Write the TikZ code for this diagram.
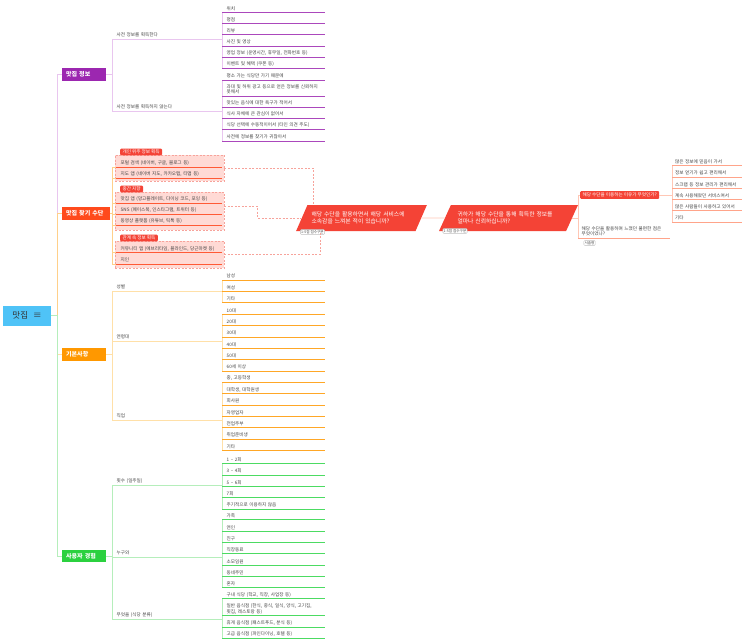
\documentclass[tikz,border=0pt]{standalone}
\usepackage{fontspec}
\setmainfont{Noto Sans CJK KR}
\usepackage{tikz}
\usetikzlibrary{shapes.geometric}
\usepackage{xcolor}
\definecolor{purpM}{HTML}{9C27B0}
\definecolor{purpL}{HTML}{E9C6EF}
\definecolor{redM}{HTML}{FF4A1C}
\definecolor{redT}{HTML}{F44336}
\definecolor{redU}{HTML}{FF5A36}
\definecolor{redL}{HTML}{FFD08A}
\definecolor{pinkF}{HTML}{FFDAD5}
\definecolor{pinkD}{HTML}{F7A39B}
\definecolor{salmL}{HTML}{FFC7B5}
\definecolor{salmU}{HTML}{FFA48A}
\definecolor{orgM}{HTML}{FF9800}
\definecolor{orgU}{HTML}{FFA726}
\definecolor{orgL}{HTML}{FFE0A8}
\definecolor{grnM}{HTML}{2BD13F}
\definecolor{grnU}{HTML}{4CDB62}
\definecolor{grnL}{HTML}{B5EEBB}
\definecolor{rootB}{HTML}{4FC3F7}
\newcommand{\leaffont}{\fontsize{4.6}{5.8}\selectfont}

\begin{document}
\begin{tikzpicture}[x=1pt, y=-1pt,
    leaf/.style={anchor=south west, inner xsep=4.5pt, inner ysep=1.5pt, text width=94pt, align=left, font=\leaffont, text=black!75},
    sub/.style={leaf, text width=101pt},
    mainbox/.style={anchor=west, minimum height=12pt, inner xsep=4pt, text width=36pt, align=left, text=white, font=\bfseries\fontsize{6}{7}\selectfont},
    tagbox/.style={anchor=south west, fill=redT, rounded corners=1pt, inner xsep=2.5pt, inner ysep=1.2pt, text=white, font=\leaffont},
    grpbox/.style={anchor=north west, fill=pinkF, draw=pinkD, dash pattern=on 2pt off 1.5pt, minimum width=109pt},
    quest/.style={trapezium, trapezium left angle=60, trapezium right angle=120, trapezium stretches=true, fill=redT, text=white, align=left, font=\fontsize{5.8}{7.4}\selectfont, minimum height=26pt},
    score/.style={fill=white, draw=black!25, rounded corners=1pt, inner sep=0.8pt, text=black!70, font=\fontsize{3.6}{4}\selectfont},
    conn/.style={line width=0.6pt},
    uline/.style={line width=0.9pt}]
    \useasboundingbox (0,0) rectangle (743,642);

    \node[fill=rootB, minimum width=48pt, minimum height=20pt, inner sep=0pt, font=\fontsize{8.5}{10}\selectfont, text=black!80] (root) at (27,315.7) {맛집\hspace{5pt}≡};
    \coordinate (tr) at (57,315.7);

    % 맛집 정보
    \begin{scope}
    \node[mainbox, fill=purpM] (info) at (62,74.5) {맛집 정보};
    \node[sub] (s1) at (112,39) {사전 정보를 획득한다};
    \node[sub] (s2) at (112,111) {사전 정보를 획득하지 않는다};

    \node[leaf] (i1) at (222,12.3) {위치};
    \node[leaf] (i2) at (222,23.5) {평점};
    \node[leaf] (i3) at (222,34.7) {리뷰};
    \node[leaf] (i4) at (222,46) {사진 및 영상};
    \node[leaf] (i5) at (222,57.3) {영업 정보 (운영시간, 휴무일, 전화번호 등)};
    \node[leaf] (i6) at (222,68.5) {이벤트 및 혜택 (쿠폰 등)};
    \node[leaf] (i7) at (222,80) {평소 가는 식당만 가기 때문에};
    \node[leaf] (i8) at (222,96) {과대 및 허위 광고 등으로 얻은 정보를 신뢰하지\\못해서};
    \node[leaf] (i9) at (222,107) {맛있는 음식에 대한 욕구가 적어서};
    \node[leaf] (i10) at (222,118) {식사 자체에 큰 관심이 없어서};
    \node[leaf] (i11) at (222,129.5) {식당 선택에 수동적이어서 (타인 의견 주도)};
    \node[leaf] (i12) at (222,141) {사전에 정보를 찾기가 귀찮아서};

    \draw[conn, purpL] (root.east) -- (tr) |- (info.west);
    \draw[conn, purpL] (info.east) -- (info.east -| s1.south west);
    \draw[conn, purpL] (s1.south west) -- (s2.south west);
    \draw[conn, purpL] (s1.south west) -- (s1.south east) (s2.south west) -- (s2.south east);
    \draw[conn, purpL] (i1.south west) -- (i6.south west) (i7.south west) -- (i12.south west);
    \foreach \i in {1,...,12}
        \draw[uline, purpM!85] (i\i.south west) -- (i\i.south east);
    \end{scope}

    % 맛집 찾기 수단
    \begin{scope}
    \node[mainbox, fill=redM, text width=40pt] (find) at (62,213.5) {맛집 찾기 수단};
    \node[grpbox, minimum height=26pt] (g1) at (115,155) {};
    \node[grpbox, minimum height=38pt] (g2) at (115,192) {};
    \node[grpbox, minimum height=27pt] (g3) at (115,241) {};
    \node[tagbox] (t1) at (120,155.5) {개인 위주 정보 획득};
    \node[tagbox] (t2) at (120,192.5) {중간 지향};
    \node[tagbox] (t3) at (120,241.5) {관계 속 정보 획득};

    \node[leaf, text width=97pt] (f1) at (116,167) {포털 검색 (네이버, 구글, 블로그 등)};
    \node[leaf, text width=97pt] (f2) at (116,178.3) {지도 앱 (네이버 지도, 카카오맵, 티맵 등)};
    \node[leaf, text width=97pt] (f3) at (116,203.5) {맛집 앱 (망고플레이트, 다이닝 코드, 포잉 등)};
    \node[leaf, text width=97pt] (f4) at (116,214.5) {SNS (페이스북, 인스타그램, 트위터 등)};
    \node[leaf, text width=97pt] (f5) at (116,225.5) {동영상 플랫폼 (유튜브, 틱톡 등)};
    \node[leaf, text width=97pt] (f6) at (116,252.7) {커뮤니티 앱 (에브리타임, 블라인드, 당근마켓 등)};
    \node[leaf, text width=97pt] (f7) at (116,264) {지인};
    \coordinate (fv) at (112,167);

    \draw[conn, redL] (root.east) -- (tr) |- (find.west);
    \draw[conn, redL] (find.east) -- (find.east -| fv);
    \draw[conn, redL] (fv) -- (fv |- f7.south west);
    \foreach \i in {1,...,7} {
        \draw[conn, redL] (fv |- f\i.south west) -- (f\i.south west);
        \draw[uline, redU] (f\i.south west) -- (f\i.south east);
    }

    \node[quest, minimum width=131pt, text width=100pt] (q1) at (361.5,218) {해당 수단을 활용하면서 해당 서비스에\\소속감을 느껴본 적이 있습니까?};
    \node[quest, minimum width=139pt, text width=102pt] (q2) at (508.5,218) {귀하가 해당 수단을 통해 획득한 정보를\\얼마나 신뢰하십니까?};
    \node[score] (sc1) at (312.5,232) {1-5점 점수구분};
    \node[score] (sc2) at (455,231) {1-5점 점수구분};

    \draw[conn, pinkD, dash pattern=on 2pt off 1.5pt] (g1.east) -| ([xshift=6pt]q1.top left corner);
    \draw[conn, pinkD, dash pattern=on 2pt off 1.5pt] ([yshift=5pt]g2.east) -- ++(33,0) |- (q1.west);
    \draw[conn, pinkD, dash pattern=on 2pt off 1.5pt] (g3.east) -| ([xshift=24pt]q1.bottom left corner);
    \draw[conn, salmL] (q1.east) -- (q2.west);

    \node[tagbox, anchor=west, inner ysep=1.8pt] (r1) at (580,195) {해당 수단을 이용하는 이유가 무엇인가?};
    \node[leaf, inner xsep=3.5pt, text width=85pt] (r2) at (578,238) {해당 수단을 활용하며 느꼈던 불편한 점은\\무엇이었나?};
    \node[score] (sc3) at (589.5,243) {서술형};

    \node[leaf, inner xsep=3pt, text width=64pt] (k1) at (672,165.7) {많은 정보에 믿음이 가서};
    \node[leaf, inner xsep=3pt, text width=64pt] (k2) at (672,177) {정보 얻기가 쉽고 편리해서};
    \node[leaf, inner xsep=3pt, text width=64pt] (k3) at (672,188.3) {스크랩 등 정보 관리가 편리해서};
    \node[leaf, inner xsep=3pt, text width=64pt] (k4) at (672,199.5) {계속 사용해왔던 서비스여서};
    \node[leaf, inner xsep=3pt, text width=64pt] (k5) at (672,210.8) {많은 사람들이 사용하고 있어서};
    \node[leaf, inner xsep=3pt, text width=64pt] (k6) at (672,222) {기타};

    \draw[conn, salmL] (q2.east) -- (q2.east -| r2.south west);
    \draw[conn, salmL] (r1.west) -- (r1.west -| r2.south west) -- (r2.south west);
    \draw[conn, salmL] (r1.east) -- (r1.east -| k1.south west);
    \draw[conn, salmL] (k1.south west) -- (k6.south west);
    \draw[uline, salmU] (r2.south west) -- (r2.south east);
    \foreach \i in {1,...,6}
        \draw[uline, salmU] (k\i.south west) -- (k\i.south east);
    \end{scope}

    % 기본사항
    \begin{scope}
    \node[mainbox, fill=orgM] (basic) at (62,354.5) {기본사항};
    \node[sub] (b1) at (112,291) {성별};
    \node[sub] (b2) at (112,341) {연령대};
    \node[sub] (b3) at (112,420) {직업};

    \node[leaf] (o1) at (222,280) {남성};
    \node[leaf] (o2) at (222,291.3) {여성};
    \node[leaf] (o3) at (222,302.7) {기타};
    \node[leaf] (o4) at (222,314.3) {10대};
    \node[leaf] (o5) at (222,325.6) {20대};
    \node[leaf] (o6) at (222,337) {30대};
    \node[leaf] (o7) at (222,348.3) {40대};
    \node[leaf] (o8) at (222,359.6) {50대};
    \node[leaf] (o9) at (222,371) {60세 이상};
    \node[leaf] (o10) at (222,382.3) {중, 고등학생};
    \node[leaf] (o11) at (222,393.6) {대학생, 대학원생};
    \node[leaf] (o12) at (222,405) {회사원};
    \node[leaf] (o13) at (222,416.3) {자영업자};
    \node[leaf] (o14) at (222,427.6) {전업주부};
    \node[leaf] (o15) at (222,439) {취업준비생};
    \node[leaf] (o16) at (222,450.3) {기타};

    \draw[conn, orgL] (root.east) -- (tr) |- (basic.west);
    \draw[conn, orgL] (basic.east) -- (basic.east -| b1.south west);
    \draw[conn, orgL] (b1.south west) -- (b3.south west);
    \draw[conn, orgL] (b1.south west) -- (b1.south east) (b2.south west) -- (b2.south east) (b3.south west) -- (b3.south east);
    \draw[conn, orgL] (o1.south west) -- (o3.south west) (o4.south west) -- (o9.south west) (o10.south west) -- (o16.south west);
    \foreach \i in {1,...,16}
        \draw[uline, orgU] (o\i.south west) -- (o\i.south east);
    \end{scope}

    % 사용자 경험
    \begin{scope}
    \node[mainbox, fill=grnM] (user) at (62,556) {사용자 경험};
    \node[sub] (c1) at (112,485) {횟수 (일주일)};
    \node[sub] (c2) at (112,557) {누구와};
    \node[sub] (c3) at (112,619) {무엇을 (식당 분류)};

    \node[leaf] (u1) at (222,463.7) {1 – 2회};
    \node[leaf] (u2) at (222,475) {3 – 4회};
    \node[leaf] (u3) at (222,486.3) {5 – 6회};
    \node[leaf] (u4) at (222,497.6) {7회};
    \node[leaf] (u5) at (222,509) {주기적으로 이용하지 않음};
    \node[leaf] (u6) at (222,519.7) {가족};
    \node[leaf] (u7) at (222,531) {연인};
    \node[leaf] (u8) at (222,542.3) {친구};
    \node[leaf] (u9) at (222,553.6) {직장동료};
    \node[leaf] (u10) at (222,565) {소모임원};
    \node[leaf] (u11) at (222,576.3) {동네주민};
    \node[leaf] (u12) at (222,587.6) {혼자};
    \node[leaf] (u13) at (222,598.7) {구내 식당 (학교, 직장, 사업장 등)};
    \node[leaf] (u14) at (222,615.7) {일반 음식점 (한식, 중식, 일식, 양식, 고기집,\\횟집, 레스토랑 등)};
    \node[leaf] (u15) at (222,627) {휴게 음식점 (패스트푸드, 분식 등)};
    \node[leaf] (u16) at (222,638.3) {고급 음식점 (파인다이닝, 호텔 등)};

    \draw[conn, grnL] (root.east) -- (tr) |- (user.west);
    \draw[conn, grnL] (user.east) -- (user.east -| c1.south west);
    \draw[conn, grnL] (c1.south west) -- (c3.south west);
    \draw[conn, grnL] (c1.south west) -- (c1.south east) (c2.south west) -- (c2.south east) (c3.south west) -- (c3.south east);
    \draw[conn, grnL] (u1.south west) -- (u5.south west) (u6.south west) -- (u12.south west) (u13.south west) -- (u16.south west);
    \foreach \i in {1,...,16}
        \draw[uline, grnU] (u\i.south west) -- (u\i.south east);
    \end{scope}
\end{tikzpicture}
\end{document}
